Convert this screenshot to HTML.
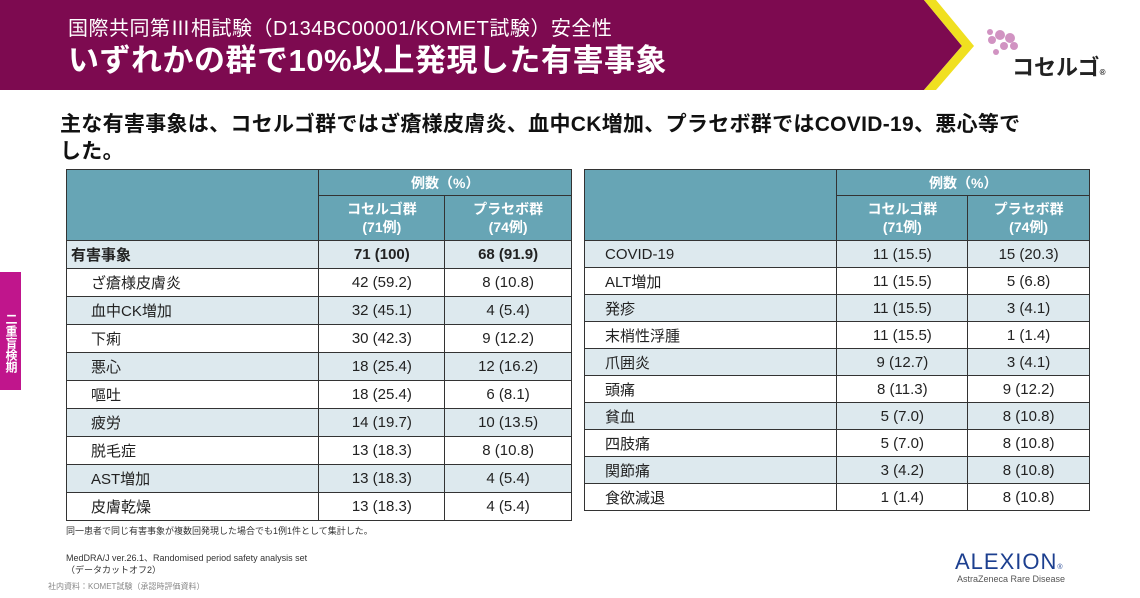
<!DOCTYPE html><html><head><meta charset="utf-8"><style>
body{margin:0;width:1140px;height:598px;position:relative;background:#fff;font-family:"Liberation Sans","Noto Sans CJK JP",sans-serif;overflow:hidden}
.a{position:absolute}
table{position:absolute;border-collapse:collapse;font-size:15px;color:#222}
td{border:1.5px solid #333;padding:0;height:26px}
table.l td{height:27px}
th{border:1.5px solid #333;background:#67a5b5;color:#fff;font-weight:bold;padding:0}
tr.o td{background:#dde9ee}
td.n{padding-left:24px}
td.c{text-align:center}
</style></head><body>
<svg class="a" style="left:0;top:0" width="1140" height="92">
<polygon points="0,0 924,0 962,46 924,90 0,90" fill="#7d0a50"/>
<polygon points="924,0 936,0 974,46 936,90 924,90 962,46" fill="#f0e020"/>
<g fill="#b34d9a" opacity="0.6"><circle cx="992" cy="40" r="4"/><circle cx="1000" cy="35" r="5"/><circle cx="1010" cy="38" r="5"/><circle cx="1004" cy="46" r="4"/><circle cx="996" cy="52" r="3"/><circle cx="1014" cy="46" r="4"/><circle cx="990" cy="32" r="3"/></g>
</svg>
<div class="a" style="left:1012px;top:50px;font-size:22px;font-weight:bold;color:#222">コセルゴ<span style="font-size:8px">®</span></div>
<div class="a" style="left:68px;top:12px;color:#fff;font-size:20px;letter-spacing:0.5px">国際共同第Ⅲ相試験（D134BC00001/KOMET試験）安全性</div>
<div class="a" style="left:68px;top:35px;color:#fff;font-size:31px;font-weight:bold;letter-spacing:0.5px">いずれかの群で10%以上発現した有害事象</div>
<div class="a" style="left:60px;top:111px;font-size:21px;font-weight:bold;color:#111;width:1060px;line-height:27px;letter-spacing:0.3px">主な有害事象は、コセルゴ群ではざ瘡様皮膚炎、血中CK増加、プラセボ群ではCOVID-19、悪心等で<br>した。</div>
<div class="a" style="left:0;top:272px;width:21px;height:118px;background:#c0158c;color:#fff;font-size:12px;writing-mode:vertical-rl;text-align:center;line-height:21px;padding-top:24px;box-sizing:border-box;font-weight:bold">二重盲検期</div>

<table class="l" style="left:66px;top:169px;width:506px">
<colgroup><col style="width:253px"><col style="width:126px"><col style="width:127px"></colgroup>
<tr><th rowspan="2"></th><th colspan="2" style="height:25px;font-size:14px">例数（%）</th></tr>
<tr><th style="height:44px;font-size:14px;line-height:18px">コセルゴ群<br>(71例)</th><th style="font-size:14px;line-height:18px">プラセボ群<br>(74例)</th></tr>
<tr class="o"><td style="padding-left:4px;font-weight:bold">有害事象</td><td class="c" style="font-weight:bold">71 (100)</td><td class="c" style="font-weight:bold">68 (91.9)</td></tr>
<tr><td class="n">ざ瘡様皮膚炎</td><td class="c">42 (59.2)</td><td class="c">8 (10.8)</td></tr>
<tr class="o"><td class="n">血中CK増加</td><td class="c">32 (45.1)</td><td class="c">4 (5.4)</td></tr>
<tr><td class="n">下痢</td><td class="c">30 (42.3)</td><td class="c">9 (12.2)</td></tr>
<tr class="o"><td class="n">悪心</td><td class="c">18 (25.4)</td><td class="c">12 (16.2)</td></tr>
<tr><td class="n">嘔吐</td><td class="c">18 (25.4)</td><td class="c">6 (8.1)</td></tr>
<tr class="o"><td class="n">疲労</td><td class="c">14 (19.7)</td><td class="c">10 (13.5)</td></tr>
<tr><td class="n">脱毛症</td><td class="c">13 (18.3)</td><td class="c">8 (10.8)</td></tr>
<tr class="o"><td class="n">AST増加</td><td class="c">13 (18.3)</td><td class="c">4 (5.4)</td></tr>
<tr><td class="n">皮膚乾燥</td><td class="c">13 (18.3)</td><td class="c">4 (5.4)</td></tr>
</table>

<table style="left:584px;top:169px;width:506px">
<colgroup><col style="width:253px"><col style="width:131px"><col style="width:122px"></colgroup>
<tr><th rowspan="2"></th><th colspan="2" style="height:25px;font-size:14px">例数（%）</th></tr>
<tr><th style="height:44px;font-size:14px;line-height:18px">コセルゴ群<br>(71例)</th><th style="font-size:14px;line-height:18px">プラセボ群<br>(74例)</th></tr>
<tr class="o"><td style="padding-left:20px">COVID-19</td><td class="c">11 (15.5)</td><td class="c">15 (20.3)</td></tr>
<tr><td style="padding-left:20px">ALT増加</td><td class="c">11 (15.5)</td><td class="c">5 (6.8)</td></tr>
<tr class="o"><td style="padding-left:20px">発疹</td><td class="c">11 (15.5)</td><td class="c">3 (4.1)</td></tr>
<tr><td style="padding-left:20px">末梢性浮腫</td><td class="c">11 (15.5)</td><td class="c">1 (1.4)</td></tr>
<tr class="o"><td style="padding-left:20px">爪囲炎</td><td class="c">9 (12.7)</td><td class="c">3 (4.1)</td></tr>
<tr><td style="padding-left:20px">頭痛</td><td class="c">8 (11.3)</td><td class="c">9 (12.2)</td></tr>
<tr class="o"><td style="padding-left:20px">貧血</td><td class="c">5 (7.0)</td><td class="c">8 (10.8)</td></tr>
<tr><td style="padding-left:20px">四肢痛</td><td class="c">5 (7.0)</td><td class="c">8 (10.8)</td></tr>
<tr class="o"><td style="padding-left:20px">関節痛</td><td class="c">3 (4.2)</td><td class="c">8 (10.8)</td></tr>
<tr><td style="padding-left:20px">食欲減退</td><td class="c">1 (1.4)</td><td class="c">8 (10.8)</td></tr>
</table>

<div class="a" style="left:66px;top:524px;font-size:9px;color:#333">同一患者で同じ有害事象が複数回発現した場合でも1例1件として集計した。</div>
<div class="a" style="left:66px;top:552px;font-size:9px;color:#333;line-height:12px">MedDRA/J ver.26.1、Randomised period safety analysis set<br>（データカットオフ2）</div>
<div class="a" style="left:48px;top:581px;font-size:8px;color:#888">社内資料：KOMET試験（承認時評価資料）</div>
<div class="a" style="left:955px;top:549px;font-size:22px;color:#1c3f8f;letter-spacing:1px">ALEXION<span style="font-size:7px">®</span></div>
<div class="a" style="left:957px;top:574px;font-size:9px;color:#555">AstraZeneca Rare Disease</div>
</body></html>
